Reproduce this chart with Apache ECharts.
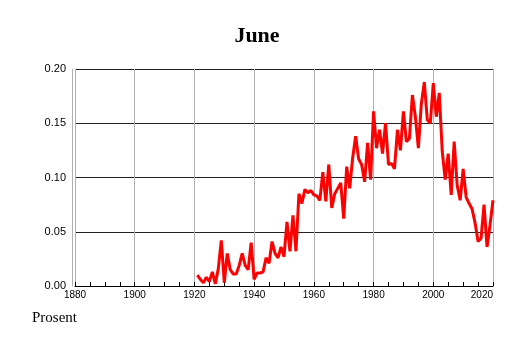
<!DOCTYPE html>
<html lang="no">
<head>
  <meta charset="UTF-8">
  <title>June</title>
  <style>
    body { margin: 0; padding: 0; background: #fff; }
    #chart { width: 514px; height: 343px; }
  </style>
</head>
<body>
  <div id="chart"></div>
  <script src="https://cdn.jsdelivr.net/npm/echarts@6/dist/echarts.min.js"></script>
  <script>
    // years 1921..2020
    var firstYear = 1921;
    var juneValues = [
      0.010, 0.006, 0.003, 0.008, 0.004, 0.013, 0.002, 0.016, 0.042, 0.003,
      0.030, 0.015, 0.011, 0.011, 0.019, 0.030, 0.019, 0.015, 0.040, 0.006,
      0.012, 0.012, 0.013, 0.026, 0.021, 0.041, 0.030, 0.026, 0.036, 0.027,
      0.059, 0.032, 0.065, 0.032, 0.085, 0.076, 0.089, 0.086, 0.088, 0.084,
      0.083, 0.079, 0.105, 0.078, 0.112, 0.072, 0.085, 0.090, 0.095, 0.062,
      0.110, 0.090, 0.118, 0.138, 0.117, 0.112, 0.096, 0.132, 0.098, 0.161,
      0.127, 0.144, 0.122, 0.150, 0.112, 0.113, 0.108, 0.144, 0.125, 0.161,
      0.133, 0.136, 0.176, 0.156, 0.127, 0.168, 0.188, 0.153, 0.150, 0.187,
      0.156, 0.178, 0.124, 0.098, 0.122, 0.084, 0.133, 0.093, 0.079, 0.108,
      0.082, 0.076, 0.071, 0.058, 0.041, 0.044, 0.075, 0.036, 0.056, 0.079
    ];
    var yTicks = [0, 0.05, 0.10, 0.15, 0.20];

    var points = juneValues.map(function (v, i) {
      return [firstYear + i, v];
    });

    var chart = echarts.init(document.getElementById('chart'));

    var option = {
      animation: false,
      title: {
        text: 'June',
        left: 'center',
        top: 20,
        textStyle: {
          fontFamily: 'Liberation Serif',
          fontWeight: 'bold',
          fontSize: 22,
          color: '#000'
        }
      },
      graphic: [{
        type: 'text',
        left: 32,
        top: 311,
        style: {
          text: 'Prosent',
          fontFamily: 'Liberation Serif',
          fontSize: 15,
          fill: '#000'
        }
      }],
      grid: { left: 75, right: 21, top: 69, bottom: 57 },
      xAxis: {
        type: 'value',
        min: 1880,
        max: 2020,
        interval: 20,
        axisLine: { show: true, lineStyle: { color: '#000', width: 1 } },
        axisTick: { show: true, inside: true, length: 4, lineStyle: { color: '#000' } },
        minorTick: { show: true, splitNumber: 4, length: 4, lineStyle: { color: '#000' } },
        splitLine: { show: true, lineStyle: { color: '#b0b0b0', width: 1 } },
        axisLabel: {
          margin: 4,
          fontFamily: 'Liberation Sans',
          fontSize: 10,
          color: '#000',
          alignMaxLabel: 'right',
          formatter: function (v) { return String(v); }
        }
      },
      yAxis: {
        type: 'value',
        min: yTicks[0],
        max: yTicks[yTicks.length - 1],
        interval: 0.05,
        offset: 3,
        axisLine: { show: true, lineStyle: { color: '#b0b0b0', width: 1 } },
        axisTick: { show: false },
        splitLine: { show: true, lineStyle: { color: '#222', width: 1 } },
        axisLabel: {
          margin: 6,
          fontFamily: 'Liberation Sans',
          fontSize: 11,
          color: '#000',
          formatter: function (v) { return v.toFixed(2); }
        }
      },
      series: [{
        type: 'line',
        data: points,
        showSymbol: false,
        lineStyle: { color: '#ff0000', width: 3 }
      }]
    };

    chart.setOption(option);
  </script>
</body>
</html>
